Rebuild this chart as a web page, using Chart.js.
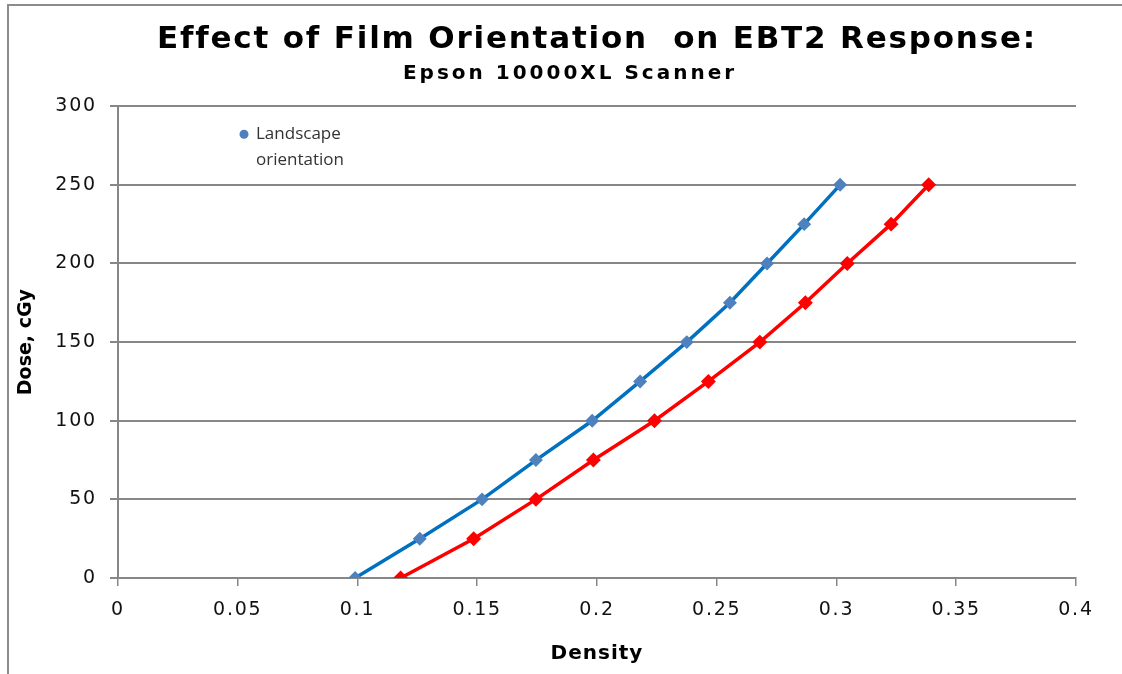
<!DOCTYPE html>
<html>
<head>
<meta charset="utf-8">
<script src="https://cdn.jsdelivr.net/npm/chart.js@4"></script>
<style>
  html, body { margin: 0; padding: 0; background: #fff; }
  #wrap { width: 1122px; height: 674px; }
</style>
</head>
<body>
<div id="wrap"><canvas id="dose-chart"></canvas></div>
<script>
// dose levels (cGy) and measured densities for each orientation
const doses = [0, 25, 50, 75, 100, 125, 150, 175, 200, 225, 250];
const landscapeDensity = [0.099, 0.126, 0.152, 0.1745, 0.198, 0.218, 0.2375, 0.2555, 0.271, 0.2865, 0.3015];
const portraitDensity = [0.118, 0.1485, 0.1745, 0.1985, 0.224, 0.2465, 0.268, 0.287, 0.3045, 0.3228, 0.3385];
const xTicks = [0, 0.05, 0.1, 0.15, 0.2, 0.25, 0.3, 0.35, 0.4];
const yTicks = [0, 50, 100, 150, 200, 250, 300];

const axisGray = '#878787';
const textFont = '"DejaVu Sans", Arial';

function toPoints(xs, ys) {
    return xs.map((x, i) => ({ x: x, y: ys[i] }));
}

// run one drawing method of a box with some letter spacing
function spaced(obj, method, px) {
    if (obj['_sp_' + method]) return;
    const orig = obj[method];
    obj[method] = function(...args) {
        const c = obj.chart ? obj.chart.ctx : obj.ctx;
        const prev = c.letterSpacing;
        c.letterSpacing = px + 'px';
        orig.apply(this, args);
        c.letterSpacing = prev;
    };
    obj['_sp_' + method] = true;
}

// grey frame round the whole picture (top and left edges only)
const framePlugin = {
    id: 'frame',
    beforeDraw(chart) {
        const ctx = chart.ctx;
        ctx.save();
        ctx.fillStyle = '#fff';
        ctx.fillRect(0, 0, chart.width, chart.height);
        ctx.strokeStyle = '#8c8c8c';
        ctx.lineWidth = 2;
        ctx.beginPath();
        ctx.moveTo(chart.width + 2, 5);
        ctx.lineTo(8, 5);
        ctx.lineTo(8, chart.height + 2);
        ctx.stroke();
        ctx.restore();
    }
};

// title sits over the plot area, subtitle a little to the left;
// text is spaced out like the original
const textPlugin = {
    id: 'wideText',
    afterLayout(chart) {
        const area = chart.chartArea;
        chart.boxes.forEach(box => {
            if (box.axis === 'x') {
                spaced(box, 'drawLabels', 1.8);
                spaced(box, 'drawTitle', 1);
            } else if (box.axis === 'y') {
                spaced(box, 'drawLabels', 1.8);
            } else if (box.options && typeof box.options.text === 'string') {
                const isMain = box.options.font.size > 24;
                box.left = isMain ? area.left : 18;
                box.right = isMain ? area.right : chart.width;
                box.width = box.right - box.left;
                spaced(box, 'draw', isMain ? 1.8 : 3);
            }
        });
    }
};

// the only legend entry, wrapped on two lines inside the plot
const legendPlugin = {
    id: 'innerLegend',
    afterDatasetsDraw(chart) {
        const ctx = chart.ctx;
        const ds = chart.data.datasets[0];
        const x = chart.chartArea.left + 126;
        const y = chart.chartArea.top + 28;
        ctx.save();
        ctx.fillStyle = ds.pointBackgroundColor;
        ctx.beginPath();
        ctx.arc(x, y, 4.5, 0, Math.PI * 2);
        ctx.fill();
        ctx.fillStyle = '#333';
        ctx.font = '17px "Open Sans"';
        ctx.textBaseline = 'middle';
        ds.label.split(' ').forEach((word, i) => {
            ctx.fillText(word, x + 12, y + i * 26);
        });
        ctx.restore();
    }
};

const ctx = document.getElementById('dose-chart').getContext('2d');
const doseChart = new Chart(ctx, {
    type: 'scatter',
    data: {
        datasets: [{
            label: 'Landscape orientation',
            data: toPoints(landscapeDensity, doses),
            showLine: true,
            borderColor: '#0070c0',
            borderWidth: 3.5,
            pointBackgroundColor: '#4f81bd',
            pointBorderColor: '#4f81bd',
            pointRadius: 4.5,
            pointStyle: 'rectRot'
        }, {
            label: 'Portrait orientation',
            data: toPoints(portraitDensity, doses),
            showLine: true,
            borderColor: '#ff0000',
            borderWidth: 3.5,
            pointBackgroundColor: '#ff0000',
            pointBorderColor: '#ff0000',
            pointRadius: 5,
            pointStyle: 'rectRot'
        }]
    },
    options: {
        responsive: true,
        maintainAspectRatio: false,
        animation: false,
        layout: { padding: { left: 0, right: 46, top: 0, bottom: 0 } },
        plugins: {
            legend: { display: false },
            tooltip: { enabled: false },
            title: {
                display: true,
                text: 'Effect of Film Orientation  on EBT2 Response:',
                color: '#000',
                font: { family: textFont, size: 31, weight: 'bold', lineHeight: 1.2 },
                padding: { top: 21, bottom: 0 }
            },
            subtitle: {
                display: true,
                text: 'Epson 10000XL Scanner',
                color: '#000',
                font: { family: textFont, size: 20, weight: 'bold', lineHeight: 1.2 },
                padding: { top: 4, bottom: 20 }
            }
        },
        scales: {
            x: {
                type: 'linear',
                min: 0,
                max: 0.4,
                afterBuildTicks(scale) {
                    scale.ticks = xTicks.map(v => ({ value: v }));
                },
                afterFit(scale) { scale.height = 96; },
                ticks: {
                    color: '#111',
                    padding: 13,
                    font: { family: textFont, size: 19 },
                    callback: v => String(v)
                },
                grid: {
                    drawOnChartArea: false,
                    drawTicks: true,
                    tickLength: 8,
                    color: axisGray,
                    lineWidth: 1.5
                },
                border: { color: axisGray, width: 2 },
                title: {
                    display: true,
                    text: 'Density',
                    color: '#000',
                    font: { family: textFont, size: 20, weight: 'bold', lineHeight: 1.2 },
                    padding: { top: 15, bottom: 8 }
                }
            },
            y: {
                type: 'linear',
                min: 0,
                max: 300,
                afterBuildTicks(scale) {
                    scale.ticks = yTicks.map(v => ({ value: v }));
                },
                afterFit(scale) { scale.width = 118; },
                ticks: {
                    color: '#111',
                    padding: 13,
                    font: { family: textFont, size: 19 }
                },
                grid: {
                    drawTicks: true,
                    tickLength: 8,
                    color: axisGray,
                    lineWidth: 2
                },
                border: { color: axisGray, width: 2 },
                title: {
                    display: true,
                    text: 'Dose, cGy',
                    color: '#000',
                    font: { family: textFont, size: 19, weight: 'bold', lineHeight: 1.2 },
                    padding: { top: 15, bottom: 9 }
                }
            }
        }
    },
    plugins: [framePlugin, textPlugin, legendPlugin]
});
</script>
</body>
</html>
